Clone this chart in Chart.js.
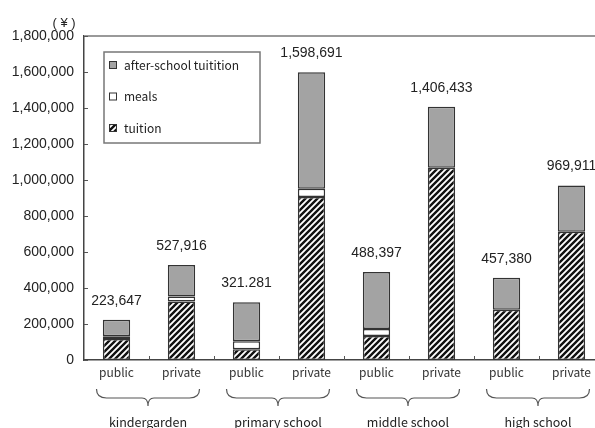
<!DOCTYPE html>
<html>
<head>
<meta charset="utf-8">
<script src="https://cdn.jsdelivr.net/npm/chart.js@4.4.1/dist/chart.umd.min.js"></script>
<style>
  html, body { margin: 0; padding: 0; background: #fff; overflow: hidden; }
  #wrap { width: 612px; height: 428px; }
</style>
</head>
<body>
<div id="wrap"><canvas id="costChart" width="612" height="428"></canvas></div>
<script>
// --- data ---
const categories = ['public', 'private', 'public', 'private', 'public', 'private', 'public', 'private'];
const groups = ['kindergarden', 'primary school', 'middle school', 'high school'];
const tuition = [116000, 325000, 60000, 905000, 134000, 1068000, 279000, 713000];
const meals = [16000, 28000, 44000, 46000, 38000, 0, 0, 0];
const afterSchool = [91647, 174916, 217281, 647691, 316397, 338433, 178380, 256911];
const totalLabels = ['223,647', '527,916', '321.281', '1,598,691', '488,397', '1,406,433', '457,380', '969,911'];
const yMax = 1800000;
const yStep = 200000;

const NUM_FONT = '"Liberation Sans", Arial, sans-serif';
const TXT_FONT = '"Noto Sans CJK KR", "Noto Sans", sans-serif';

// 빗금 패턴 (tuition)
function makeHatch() {
    const s = 6;
    const c = document.createElement('canvas');
    c.width = s; c.height = s;
    const g = c.getContext('2d');
    g.fillStyle = '#fff'; g.fillRect(0, 0, s, s);
    g.strokeStyle = '#111'; g.lineWidth = 2.4;
    g.beginPath();
    g.moveTo(-1, s + 1); g.lineTo(s + 1, -1);
    g.moveTo(-1, 1); g.lineTo(1, -1);
    g.moveTo(s - 1, s + 1); g.lineTo(s + 1, s - 1);
    g.stroke();
    return g.createPattern(c, 'repeat');
}
const hatch = makeHatch();

// frame, inward ticks, totals, legend, braces
const decorPlugin = {
    id: 'decor',
    afterDraw(chart) {
        const ctx = chart.ctx;
        const area = chart.chartArea;
        const x = chart.scales.x, y = chart.scales.y;
        ctx.save();

        // top frame line
        ctx.strokeStyle = '#999'; ctx.lineWidth = 2;
        ctx.beginPath(); ctx.moveTo(area.left, area.top); ctx.lineTo(area.right, area.top); ctx.stroke();

        // inward ticks
        ctx.strokeStyle = '#555'; ctx.lineWidth = 1;
        ctx.beginPath();
        y.ticks.forEach(t => {
            const py = Math.round(y.getPixelForValue(t.value)) + 0.5;
            ctx.moveTo(area.left, py); ctx.lineTo(area.left + 4, py);
        });
        for (let i = 0; i < categories.length - 1; i++) {
            const px = Math.round((x.getPixelForValue(i) + x.getPixelForValue(i + 1)) / 2) + 0.5;
            ctx.moveTo(px, area.bottom); ctx.lineTo(px, area.bottom - 4);
        }
        ctx.stroke();

        // totals above bars
        const topMeta = chart.getDatasetMeta(2);
        ctx.fillStyle = '#222';
        ctx.font = '14px ' + NUM_FONT;
        ctx.textAlign = 'center'; ctx.textBaseline = 'middle';
        topMeta.data.forEach((bar, i) => {
            ctx.fillText(totalLabels[i], bar.x, bar.y - 19);
        });

        // legend box
        const lx = 104, ly = 52, lw = 156, lh = 91;
        ctx.strokeStyle = '#777'; ctx.lineWidth = 1.5;
        ctx.strokeRect(lx, ly, lw, lh);
        const order = [2, 1, 0];
        ctx.font = '12px ' + TXT_FONT;
        ctx.textAlign = 'left';
        order.forEach((di, k) => {
            const ds = chart.data.datasets[di];
            const cy = 65 + k * 31.5;
            ctx.fillStyle = ds.backgroundColor;
            ctx.fillRect(109, cy - 4, 8, 8);
            ctx.strokeStyle = '#333'; ctx.lineWidth = 1;
            ctx.strokeRect(109.5, cy - 3.5, 7, 7);
            ctx.fillStyle = '#222';
            ctx.fillText(ds.label, 124, cy);
        });

        // braces + group names
        ctx.strokeStyle = '#555'; ctx.lineWidth = 1.2;
        ctx.fillStyle = '#222';
        ctx.font = '12.5px ' + TXT_FONT;
        ctx.textAlign = 'center';
        groups.forEach((name, gi) => {
            const x0 = x.getPixelForValue(gi * 2) - 20;
            const x1 = x.getPixelForValue(gi * 2 + 1) + 18;
            const mid = (x0 + x1) / 2;
            const yt = 389, ym = 398, yb = 406;
            ctx.beginPath();
            ctx.moveTo(x0, yt);
            ctx.quadraticCurveTo(x0, ym, x0 + 10, ym);
            ctx.lineTo(mid - 6, ym);
            ctx.quadraticCurveTo(mid, ym, mid, yb);
            ctx.quadraticCurveTo(mid, ym, mid + 6, ym);
            ctx.lineTo(x1 - 10, ym);
            ctx.quadraticCurveTo(x1, ym, x1, yt);
            ctx.stroke();
            ctx.fillText(name, mid, 422);
        });

        // unit
        ctx.font = '13px ' + NUM_FONT;
        ctx.fillText('( ¥ )', 64, 23);
        ctx.restore();
    }
};

const barStyle = { borderColor: '#333', borderWidth: 1.5, borderSkipped: false, barPercentage: 0.42, categoryPercentage: 1.0 };

new Chart(document.getElementById('costChart'), {
    type: 'bar',
    data: {
        labels: categories,
        datasets: [
            { label: 'tuition', data: tuition, backgroundColor: hatch, ...barStyle },
            { label: 'meals', data: meals, backgroundColor: '#ffffff', ...barStyle },
            { label: 'after-school tuitition', data: afterSchool, backgroundColor: '#a3a3a3', ...barStyle }
        ]
    },
    options: {
        responsive: false, animation: false, devicePixelRatio: 1,
        layout: { padding: { top: 36, right: 8, left: 0, bottom: 0 } },
        plugins: { legend: { display: false }, tooltip: { enabled: false } },
        scales: {
            x: {
                stacked: true,
                grid: { display: false, drawTicks: false },
                border: { display: true, color: '#444', width: 1.5 },
                ticks: { color: '#333', padding: 5, font: { family: TXT_FONT, size: 12 } },
                afterFit: s => { s.height = 68; }
            },
            y: {
                stacked: true, min: 0, max: yMax,
                grid: { display: false, drawTicks: false },
                border: { display: true, color: '#444', width: 1.5 },
                ticks: {
                    stepSize: yStep, color: '#222', padding: 10,
                    font: { family: NUM_FONT, size: 14 },
                    callback: v => v.toLocaleString('en-US')
                },
                afterFit: s => { s.width = 84; }
            }
        }
    },
    plugins: [decorPlugin]
});
</script>
</body>
</html>
